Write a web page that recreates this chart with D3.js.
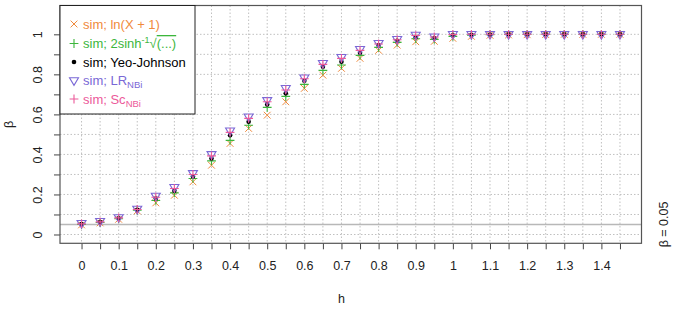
<!DOCTYPE html>
<html>
<head>
<meta charset="utf-8">
<script src="https://cdn.jsdelivr.net/npm/d3@7"></script>
<style>
  body { margin: 0; background: #fff; }
  text { font-family: "Liberation Sans", Arial, sans-serif; }
</style>
</head>
<body>
<div id="chart"></div>
<script>
var hValues = [0, 0.05, 0.1, 0.15, 0.2, 0.25, 0.3, 0.35, 0.4, 0.45, 0.5, 0.55, 0.6, 0.65, 0.7,
  0.75, 0.8, 0.85, 0.9, 0.95, 1, 1.05, 1.1, 1.15, 1.2, 1.25, 1.3, 1.35, 1.4, 1.45];

var lnVals = [0.048, 0.058, 0.076, 0.118, 0.158, 0.196, 0.263, 0.346, 0.455, 0.53, 0.596, 0.663,
  0.73, 0.796, 0.83, 0.88, 0.92, 0.946, 0.963, 0.965, 0.98, 0.99, 0.995, 0.997, 0.998, 0.999, 1, 1, 1, 1];
var asinhVals = [0.05, 0.06, 0.079, 0.121, 0.17, 0.208, 0.28, 0.368, 0.47, 0.546, 0.635, 0.69,
  0.75, 0.82, 0.847, 0.895, 0.935, 0.96, 0.978, 0.975, 0.99, 0.996, 0.998, 0.999, 1, 1, 1, 1, 1, 1];
var yjVals = [0.052, 0.062, 0.081, 0.123, 0.18, 0.218, 0.29, 0.38, 0.496, 0.563, 0.65, 0.705,
  0.768, 0.838, 0.863, 0.908, 0.946, 0.968, 0.985, 0.982, 0.995, 0.998, 0.999, 1, 1, 1, 1, 1, 1, 1];
var lrVals = [0.056, 0.066, 0.085, 0.127, 0.192, 0.236, 0.305, 0.4, 0.518, 0.588, 0.67, 0.73,
  0.783, 0.855, 0.885, 0.925, 0.955, 0.975, 0.996, 0.988, 1, 1, 1, 1, 1, 1, 1, 1, 1, 1];
var scVals = [0.053, 0.063, 0.083, 0.125, 0.186, 0.23, 0.3, 0.393, 0.51, 0.58, 0.663, 0.722,
  0.778, 0.85, 0.88, 0.92, 0.952, 0.973, 0.994, 0.987, 0.999, 1, 1, 1, 1, 1, 1, 1, 1, 1];

var xTickLabels = [0, 0.1, 0.2, 0.3, 0.4, 0.5, 0.6, 0.7, 0.8, 0.9, 1, 1.1, 1.2, 1.3, 1.4];
var yTickLabels = [0, 0.2, 0.4, 0.6, 0.8, 1];
var alphaLevel = 0.05;

var series = [
  { name: "ln", vals: lnVals, color: "#f08a3c", shape: "x" },
  { name: "asinh", vals: asinhVals, color: "#3cb63c", shape: "plus" },
  { name: "yj", vals: yjVals, color: "#000000", shape: "dot" },
  { name: "lr", vals: lrVals, color: "#7a68d6", shape: "tri" },
  { name: "sc", vals: scVals, color: "#ec5a9a", shape: "plus" }
];

var svgWidth = 673, svgHeight = 312;
var box = { left: 60, right: 641.5, top: 5.5, bottom: 243.3 };

var svg = d3.select("#chart").append("svg")
  .attr("width", svgWidth)
  .attr("height", svgHeight);

var xScale = d3.scaleLinear().domain([-0.058, 1.508]).range([box.left, box.right]);
var yScale = d3.scaleLinear().domain([-0.044, 1.144]).range([box.bottom, box.top]);

var xMinor = d3.range(0, 30).map(function(i) { return i * 0.05; });
var yMinor = d3.range(0, 11).map(function(i) { return i * 0.1; });

// grid
var grid = svg.append("g");
grid.selectAll(".vg").data(xMinor).enter().append("line")
  .attr("x1", d => xScale(d)).attr("x2", d => xScale(d))
  .attr("y1", box.top).attr("y2", box.bottom)
  .attr("stroke", "#c0c0c0").attr("stroke-dasharray", "1.5,2");
grid.selectAll(".hg").data(yMinor).enter().append("line")
  .attr("x1", box.left).attr("x2", box.right)
  .attr("y1", d => yScale(d)).attr("y2", d => yScale(d))
  .attr("stroke", "#c0c0c0").attr("stroke-dasharray", "1.5,2");

svg.append("line")
  .attr("x1", box.left).attr("x2", box.right)
  .attr("y1", yScale(alphaLevel)).attr("y2", yScale(alphaLevel))
  .attr("stroke", "#b8b8b8").attr("stroke-width", 1.5);

// axes
var xAxis = d3.axisBottom(xScale).tickValues(xMinor).tickSize(6)
  .tickFormat(d => xTickLabels.some(v => Math.abs(v - d) < 1e-9) ? d3.format("~g")(+d.toFixed(2)) : "");
var gx = svg.append("g").attr("transform", "translate(0," + box.bottom + ")").call(xAxis);
gx.select(".domain").remove();
gx.selectAll("line").attr("stroke", "#444");
gx.selectAll("text").attr("font-size", 12.5).attr("fill", "#222").attr("dy", "1.45em");

var yAxis = d3.axisLeft(yScale).tickValues(yMinor).tickSize(6)
  .tickFormat(d => yTickLabels.some(v => Math.abs(v - d) < 1e-9) ? d3.format("~g")(+d.toFixed(2)) : "");
var gy = svg.append("g").attr("transform", "translate(" + box.left + ",0)").call(yAxis);
gy.select(".domain").remove();
gy.selectAll("line").attr("stroke", "#444");
gy.selectAll("text")
  .attr("font-size", 12.5).attr("fill", "#222")
  .attr("x", 0).attr("dy", 0)
  .attr("text-anchor", "middle")
  .attr("transform", "translate(-18,0) rotate(-90)");

// plot box
svg.append("rect")
  .attr("x", box.left).attr("y", box.top)
  .attr("width", box.right - box.left).attr("height", box.bottom - box.top)
  .attr("fill", "none").attr("stroke", "#555").attr("stroke-width", 1.2);

// axis titles
svg.append("text").attr("x", xScale(0.7)).attr("y", 303)
  .attr("text-anchor", "middle").attr("font-size", 12.5).attr("fill", "#222").text("h");
svg.append("text").attr("transform", "translate(13," + yScale(0.55) + ") rotate(-90)")
  .attr("text-anchor", "middle").attr("font-size", 12.5).attr("fill", "#222").text("β");
svg.append("text").attr("transform", "translate(668," + yScale(alphaLevel) + ") rotate(-90)")
  .attr("text-anchor", "middle").attr("font-size", 12.5).attr("fill", "#222").text("β = 0.05");

function drawMarker(g, shape, color, cx, cy) {
  if (shape === "x") {
    g.append("path").attr("d", "M" + (cx - 3.4) + "," + (cy - 3.4) + "L" + (cx + 3.4) + "," + (cy + 3.4) +
      "M" + (cx - 3.4) + "," + (cy + 3.4) + "L" + (cx + 3.4) + "," + (cy - 3.4))
      .attr("stroke", color).attr("stroke-width", 1).attr("fill", "none");
  } else if (shape === "plus") {
    g.append("path").attr("d", "M" + (cx - 4.4) + "," + cy + "L" + (cx + 4.4) + "," + cy +
      "M" + cx + "," + (cy - 4.4) + "L" + cx + "," + (cy + 4.4))
      .attr("stroke", color).attr("stroke-width", 1.1).attr("fill", "none");
  } else if (shape === "dot") {
    g.append("circle").attr("cx", cx).attr("cy", cy).attr("r", 2.3).attr("fill", color);
  } else if (shape === "tri") {
    g.append("path").attr("d", "M" + (cx - 4.5) + "," + (cy - 2.8) + "L" + (cx + 4.5) + "," + (cy - 2.8) +
      "L" + cx + "," + (cy + 4.8) + "Z")
      .attr("stroke", color).attr("stroke-width", 1.1).attr("fill", "none");
  }
}

var marks = svg.append("g");
series.forEach(function(s) {
  var g = marks.append("g");
  s.vals.forEach(function(v, i) {
    drawMarker(g, s.shape, s.color, xScale(hValues[i]), yScale(v));
  });
});

// legend
var legend = svg.append("g");
legend.append("rect").attr("x", box.left).attr("y", box.top)
  .attr("width", 135).attr("height", 108.5)
  .attr("fill", "#fff").attr("stroke", "#222").attr("stroke-width", 1);

var legendRows = [24, 43.5, 62, 80.5, 99];
series.forEach(function(s, i) {
  var cy = legendRows[i];
  drawMarker(legend, s.shape, s.color, 74, cy);
  var t = legend.append("text").attr("x", 83).attr("y", cy + 4.5)
    .attr("font-size", 13).attr("fill", s.color);
  if (s.name === "ln") {
    t.text("sim; ln(X + 1)");
  } else if (s.name === "asinh") {
    t.append("tspan").text("sim; 2sinh");
    t.append("tspan").attr("font-size", 9).attr("dy", -5).text("-1");
    t.append("tspan").attr("dy", 5).text("√");
    t.append("tspan").attr("text-decoration", "overline").text("(...)");
  } else if (s.name === "yj") {
    t.text("sim; Yeo-Johnson");
  } else if (s.name === "lr") {
    t.append("tspan").text("sim; LR");
    t.append("tspan").attr("font-size", 9.5).attr("dy", 3).text("NBi");
  } else {
    t.append("tspan").text("sim; Sc");
    t.append("tspan").attr("font-size", 9.5).attr("dy", 3).text("NBi");
  }
});
</script>
</body>
</html>
